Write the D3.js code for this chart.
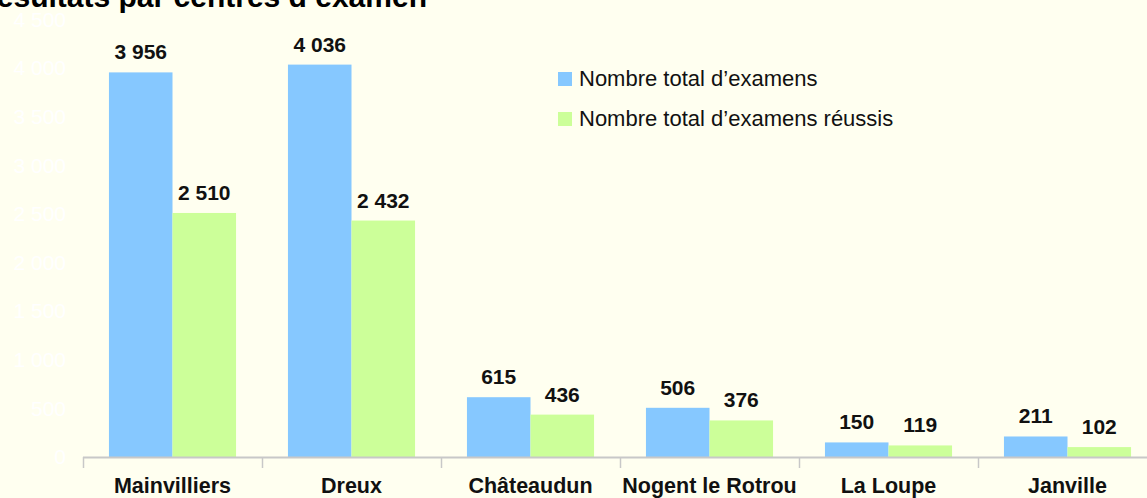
<html>
<head>
<meta charset="utf-8">
<script src="https://d3js.org/d3.v7.min.js"></script>
<style>
  body { margin: 0; background: #FFFFF0; overflow: hidden; }
  svg { display: block; }
  .title { font: bold 30px "Liberation Sans", Arial, sans-serif; fill: #000; }
  .ytick text { font: 21px "Liberation Sans", Arial, sans-serif; fill: #ffffff; }
  .value { font: bold 21px "Liberation Sans", Arial, sans-serif; fill: #111; }
  .cat { font: bold 21.5px "Liberation Sans", Arial, sans-serif; fill: #111; }
  .legend { font: 22px "Liberation Sans", Arial, sans-serif; fill: #111; }
</style>
</head>
<body>
<div id="chart"></div>
<script>

// data
var centres = ["Mainvilliers", "Dreux", "Châteaudun", "Nogent le Rotrou", "La Loupe", "Janville"];
var totalExamens = [3956, 4036, 615, 506, 150, 211];
var examensReussis = [2510, 2432, 436, 376, 119, 102];
var seriesNames = ["Nombre total d’examens", "Nombre total d’examens réussis"];
var yTicks = [0, 500, 1000, 1500, 2000, 2500, 3000, 3500, 4000, 4500];

var colors = ["#86C8FF", "#CCFF99"];

var width = 1147, height = 498;

var svg = d3.select("#chart").append("svg")
  .attr("width", width)
  .attr("height", height);

var fmt = d3.formatLocale({decimal: ",", thousands: " ", grouping: [3], currency: ["", " €"]}).format(",d");

// scales
var x = d3.scaleBand()
  .domain(centres)
  .range([83, 1157])
  .paddingInner(0.29)
  .paddingOuter(0.145);

var xSub = d3.scaleBand()
  .domain([0, 1])
  .range([0, x.bandwidth()]);

var y = d3.scaleLinear()
  .domain([0, 4500])
  .range([457, 19.5]);

// title (cut off at the top in the original)
svg.append("text")
  .attr("class", "title")
  .attr("x", 427)
  .attr("y", 7)
  .attr("text-anchor", "end")
  .text("Résultats par centres d’examen");

// y axis labels (white on ivory, no line)
var yAxis = svg.append("g")
  .attr("class", "ytick")
  .attr("transform", "translate(66,0)")
  .call(d3.axisLeft(y).tickValues(yTicks).tickFormat(fmt).tickSize(0).tickPadding(0));
yAxis.select(".domain").remove();
yAxis.selectAll("text").attr("fill", "#ffffff");

// bars
var rows = centres.map(function(c, i) {
  return {centre: c, values: [totalExamens[i], examensReussis[i]]};
});

var groups = svg.selectAll("g.centre")
  .data(rows)
  .enter().append("g")
  .attr("class", "centre")
  .attr("transform", function(d) { return "translate(" + x(d.centre) + ",0)"; });

groups.selectAll("rect")
  .data(function(d) { return d.values; })
  .enter().append("rect")
  .attr("x", function(d, i) { return xSub(i); })
  .attr("y", function(d) { return y(d); })
  .attr("width", xSub.bandwidth())
  .attr("height", function(d) { return y(0) - y(d); })
  .attr("fill", function(d, i) { return colors[i]; });

groups.selectAll("text.value")
  .data(function(d) { return d.values; })
  .enter().append("text")
  .attr("class", "value")
  .attr("x", function(d, i) { return xSub(i) + xSub.bandwidth() / 2; })
  .attr("y", function(d) { return y(d) - 13; })
  .attr("text-anchor", "middle")
  .text(function(d) { return fmt(d); });

// x axis: line with ticks between the categories
var xAxis = svg.append("g");
xAxis.append("line")
  .attr("x1", x.range()[0]).attr("x2", x.range()[1])
  .attr("y1", y(0) + 0.5).attr("y2", y(0) + 0.5)
  .attr("stroke", "#c8c8c8").attr("stroke-width", 2);
xAxis.selectAll("line.tick")
  .data(centres)
  .enter().append("line")
  .attr("class", "tick")
  .attr("x1", function(d) { return x(d) - x.step() * x.paddingOuter() + 0.5; })
  .attr("x2", function(d) { return x(d) - x.step() * x.paddingOuter() + 0.5; })
  .attr("y1", y(0)).attr("y2", y(0) + 11)
  .attr("stroke", "#c8c8c8").attr("stroke-width", 1.5);
xAxis.selectAll("text.cat")
  .data(centres)
  .enter().append("text")
  .attr("class", "cat")
  .attr("x", function(d) { return x(d) + x.bandwidth() / 2; })
  .attr("y", 493)
  .attr("text-anchor", "middle")
  .text(function(d) { return d; });

// legend
var legend = svg.selectAll("g.legend")
  .data(seriesNames)
  .enter().append("g")
  .attr("transform", function(d, i) { return "translate(558," + (72 + i * 40) + ")"; });
legend.append("rect")
  .attr("width", 14).attr("height", 14)
  .attr("fill", function(d, i) { return colors[i]; });
legend.append("text")
  .attr("class", "legend")
  .attr("x", 21)
  .attr("y", 14)
  .text(function(d) { return d; });

</script>
</body>
</html>
